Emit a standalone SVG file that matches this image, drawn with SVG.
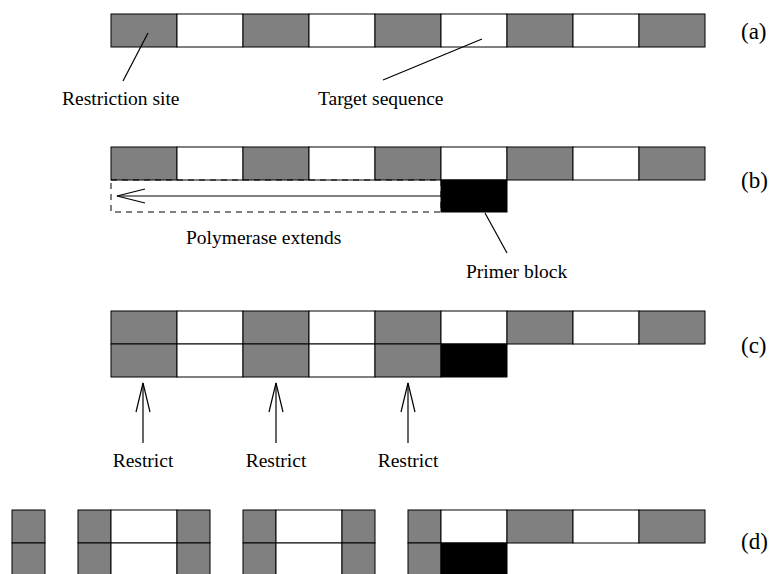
<svg xmlns="http://www.w3.org/2000/svg" width="778" height="574" viewBox="0 0 778 574">
<style>
.g{fill:#808080;stroke:#000;stroke-width:1}
.w{fill:#fff;stroke:#000;stroke-width:1}
.k{fill:#000;stroke:#000;stroke-width:1}
.ln{fill:none;stroke:#000;stroke-width:1.2}
.t{font-family:"Liberation Serif","Times New Roman",serif;font-size:19.5px;fill:#000}
.lab{font-family:"Liberation Serif","Times New Roman",serif;font-size:23px;fill:#000}
</style>
<rect width="778" height="574" fill="#fff"/>
<g id="rowA">
<rect class="g" x="111" y="14" width="66" height="33"/>
<rect class="w" x="177" y="14" width="66" height="33"/>
<rect class="g" x="243" y="14" width="66" height="33"/>
<rect class="w" x="309" y="14" width="66" height="33"/>
<rect class="g" x="375" y="14" width="66" height="33"/>
<rect class="w" x="441" y="14" width="66" height="33"/>
<rect class="g" x="507" y="14" width="66" height="33"/>
<rect class="w" x="573" y="14" width="66" height="33"/>
<rect class="g" x="639" y="14" width="66" height="33"/>
<text class="lab" x="741" y="39">(a)</text>
<text class="t" x="62" y="105">Restriction site</text>
<text class="t" x="318" y="105">Target sequence</text>
</g>
<g id="rowB">
<rect class="g" x="111" y="147" width="66" height="33"/>
<rect class="w" x="177" y="147" width="66" height="33"/>
<rect class="g" x="243" y="147" width="66" height="33"/>
<rect class="w" x="309" y="147" width="66" height="33"/>
<rect class="g" x="375" y="147" width="66" height="33"/>
<rect class="w" x="441" y="147" width="66" height="33"/>
<rect class="g" x="507" y="147" width="66" height="33"/>
<rect class="w" x="573" y="147" width="66" height="33"/>
<rect class="g" x="639" y="147" width="66" height="33"/>
<rect x="111" y="180" width="330" height="32" fill="none" stroke="#000" stroke-width="1" stroke-dasharray="6 5"/>
<rect class="k" x="441" y="180" width="66" height="32"/>
<text class="lab" x="741" y="188">(b)</text>
<text class="t" x="186" y="244">Polymerase extends</text>
<text class="t" x="466" y="278">Primer block</text>
</g>
<g id="rowC">
<rect class="g" x="111" y="311" width="66" height="33"/>
<rect class="w" x="177" y="311" width="66" height="33"/>
<rect class="g" x="243" y="311" width="66" height="33"/>
<rect class="w" x="309" y="311" width="66" height="33"/>
<rect class="g" x="375" y="311" width="66" height="33"/>
<rect class="w" x="441" y="311" width="66" height="33"/>
<rect class="g" x="507" y="311" width="66" height="33"/>
<rect class="w" x="573" y="311" width="66" height="33"/>
<rect class="g" x="639" y="311" width="66" height="33"/>
<rect class="g" x="111" y="344" width="66" height="33"/>
<rect class="w" x="177" y="344" width="66" height="33"/>
<rect class="g" x="243" y="344" width="66" height="33"/>
<rect class="w" x="309" y="344" width="66" height="33"/>
<rect class="g" x="375" y="344" width="66" height="33"/>
<rect class="k" x="441" y="344" width="66" height="33"/>
<text class="lab" x="741" y="353">(c)</text>
<text class="t" x="143" y="467" text-anchor="middle">Restrict</text>
<text class="t" x="276" y="467" text-anchor="middle">Restrict</text>
<text class="t" x="408" y="467" text-anchor="middle">Restrict</text>
</g>
<g id="rowD">
<rect class="g" x="12" y="510" width="33" height="33"/>
<rect class="g" x="12" y="543" width="33" height="33"/>
<rect class="g" x="78" y="510" width="33" height="33"/>
<rect class="w" x="111" y="510" width="66" height="33"/>
<rect class="g" x="177" y="510" width="33" height="33"/>
<rect class="g" x="78" y="543" width="33" height="33"/>
<rect class="w" x="111" y="543" width="66" height="33"/>
<rect class="g" x="177" y="543" width="33" height="33"/>
<rect class="g" x="243" y="510" width="33" height="33"/>
<rect class="w" x="276" y="510" width="66" height="33"/>
<rect class="g" x="342" y="510" width="33" height="33"/>
<rect class="g" x="243" y="543" width="33" height="33"/>
<rect class="w" x="276" y="543" width="66" height="33"/>
<rect class="g" x="342" y="543" width="33" height="33"/>
<rect class="g" x="408" y="510" width="33" height="33"/>
<rect class="w" x="441" y="510" width="66" height="33"/>
<rect class="g" x="507" y="510" width="66" height="33"/>
<rect class="w" x="573" y="510" width="66" height="33"/>
<rect class="g" x="639" y="510" width="66" height="33"/>
<rect class="g" x="408" y="543" width="33" height="33"/>
<rect class="k" x="441" y="543" width="66" height="33"/>
<text class="lab" x="741" y="549">(d)</text>
</g>
<g id="connectors">
<line class="ln" x1="148" y1="33" x2="123" y2="81"/>
<line class="ln" x1="482" y1="39" x2="383" y2="80"/>
<line class="ln" x1="441" y1="196" x2="117" y2="196"/>
<polyline class="ln" points="145,189 117,196 145,203"/>
<line class="ln" x1="485" y1="213" x2="507" y2="253"/>
<line class="ln" x1="143" y1="443" x2="143" y2="383"/>
<polyline class="ln" points="136,412 143,383 150,412"/>
<line class="ln" x1="276" y1="443" x2="276" y2="383"/>
<polyline class="ln" points="269,412 276,383 283,412"/>
<line class="ln" x1="408" y1="443" x2="408" y2="383"/>
<polyline class="ln" points="401,412 408,383 415,412"/>
</g>
</svg>
